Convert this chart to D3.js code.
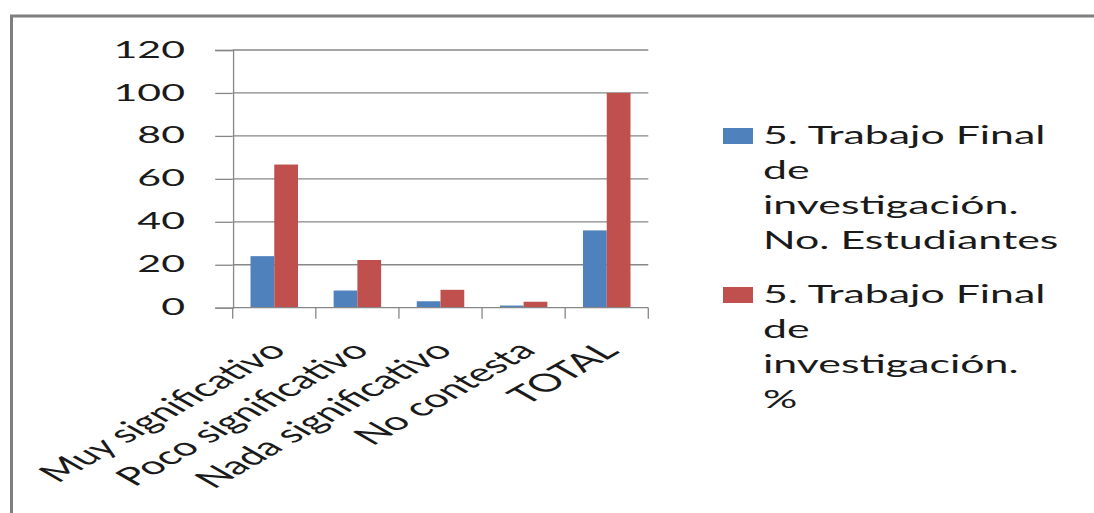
<!DOCTYPE html>
<html><head><meta charset="utf-8">
<script src="https://cdn.jsdelivr.net/npm/d3@7/dist/d3.min.js"></script>
<style>html,body{margin:0;padding:0;background:#fff;overflow:hidden}</style>
</head><body>
<svg id="c" width="1094" height="513"></svg>
<script>
const categories = ["Muy significativo","Poco significativo","Nada significativo","No contesta","TOTAL"];
const seriesNames = ["5. Trabajo Final de investigación. No. Estudiantes","5. Trabajo Final de investigación. %"];
const estudiantes = [24, 8, 3, 1, 36];
const porcentaje = [66.67, 22.22, 8.33, 2.78, 100];
const yTicks = [0, 20, 40, 60, 80, 100, 120];
const legendLines = [
  ["5. Trabajo Final", "de", "investigación.", "No. Estudiantes"],
  ["5. Trabajo Final", "de", "investigación.", "%"]
];
const colors = ["#4F81BD", "#C0504D"];

(function () {
const S = 1.75; // horizontal stretch of the whole picture
const svg = d3.select("#c");

// frame
svg.append("rect").attr("x", 11.5).attr("y", 16).attr("width", 2000).attr("height", 2000)
  .attr("fill", "none").attr("stroke", "#7f7f7f").attr("stroke-width", 3);

const g = svg.append("g").attr("transform", `scale(${S},1)`);
const font = "Lato, 'Liberation Sans', sans-serif";

const pLeft = 232.7 / S, pRight = 648.3 / S, pTop = 50, pBottom = 307.7;
const x = d3.scaleBand().domain(categories).range([pLeft, pRight]).padding(0);
const xs = d3.scaleBand().domain([0, 1]).range([0, x.bandwidth()]).paddingInner(0).paddingOuter(0.75);
const y = d3.scaleLinear().domain([0, 120]).range([pBottom, pTop]);

const ns = "non-scaling-stroke";
const grid = "#878787";
// gridlines
g.append("g").selectAll("line").data(yTicks.filter(d => d > 0)).join("line")
  .attr("x1", pLeft).attr("x2", pRight).attr("y1", d => y(d)).attr("y2", d => y(d))
  .attr("stroke", grid).attr("stroke-width", 1.3).attr("vector-effect", ns);

// bars
const data = categories.map((c, i) => ({c, v: [estudiantes[i], porcentaje[i]]}));
const bg = g.append("g").selectAll("g").data(data).join("g")
  .attr("transform", d => `translate(${x(d.c)},0)`);
bg.selectAll("rect").data(d => d.v.map((v, k) => ({v, k}))).join("rect")
  .attr("x", d => xs(d.k)).attr("width", xs.bandwidth())
  .attr("y", d => y(d.v)).attr("height", d => y(0) - y(d.v))
  .attr("fill", d => colors[d.k]);

// y axis
const yAxis = g.append("g").attr("transform", `translate(${pLeft},0)`)
  .call(d3.axisLeft(y).tickValues(yTicks).tickSize(17.5 / S).tickPadding(0).tickFormat(d3.format("d")));
yAxis.select(".domain").attr("stroke", grid).attr("stroke-width", 1.3).attr("vector-effect", ns);
yAxis.selectAll(".tick line").attr("stroke", grid).attr("stroke-width", 1.3).attr("vector-effect", ns);
yAxis.selectAll(".tick text").attr("x", -(232.7 - 185) / S).attr("dy", "0.3em")
  .attr("font-family", font).attr("font-size", 23.5).attr("fill", "#1a1a1a");

// x axis baseline and boundary ticks
g.append("line").attr("x1", pLeft).attr("x2", pRight).attr("y1", pBottom).attr("y2", pBottom)
  .attr("stroke", grid).attr("stroke-width", 1.3).attr("vector-effect", ns);
const bounds = categories.map(c => x(c)).concat([x(categories[categories.length - 1]) + x.bandwidth()]);
g.append("g").selectAll("line").data(bounds).join("line")
  .attr("x1", d => d).attr("x2", d => d).attr("y1", pBottom).attr("y2", pBottom + 11)
  .attr("stroke", grid).attr("stroke-width", 1.3).attr("vector-effect", ns);

// category labels
g.append("g").selectAll("text").data(categories).join("text")
  .attr("transform", d => `translate(${x(d) + x.bandwidth() / 2 - 8 / S},${pBottom + 32}) rotate(-45)`)
  .attr("text-anchor", "end").attr("dy", "0.7em")
  .attr("font-family", font).attr("font-size", 25).attr("fill", "#1a1a1a")
  .text(d => d);

// legend
const lx = 723 / S, ltx = 763 / S;
const items = [{base: 144, k: 0}, {base: 303, k: 1}];
items.forEach(it => {
  g.append("rect").attr("x", lx).attr("y", it.base - 16).attr("width", 30 / S).attr("height", 16)
    .attr("fill", colors[it.k]);
  const t = g.append("text").attr("font-family", font).attr("font-size", 24.5).attr("fill", "#1a1a1a");
  legendLines[it.k].forEach((line, j) => {
    t.append("tspan").attr("x", ltx).attr("y", it.base + j * 35).text(line);
  });
});
})();
</script>
</body></html>
